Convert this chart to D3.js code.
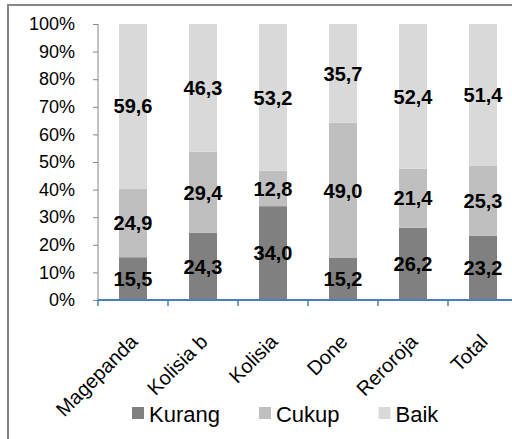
<!DOCTYPE html>
<html>
<head>
<meta charset="utf-8">
<script src="https://cdn.jsdelivr.net/npm/d3@7"></script>
<style>
  body { margin: 0; background: #fff; }
  text { font-family: Arial, "Liberation Sans", sans-serif; }
</style>
</head>
<body>
<script>
const categories = ["Magepanda", "Kolisia b", "Kolisia", "Done", "Reroroja", "Total"];
const seriesNames = ["Kurang", "Cukup", "Baik"];
const kurang = [15.5, 24.3, 34.0, 15.2, 26.2, 23.2];
const cukup = [24.9, 29.4, 12.8, 49.0, 21.4, 25.3];
const baik = [59.6, 46.3, 53.2, 35.7, 52.4, 51.4];
const yTicks = [0, 0.1, 0.2, 0.3, 0.4, 0.5, 0.6, 0.7, 0.8, 0.9, 1];
const colors = ["#808080", "#bfbfbf", "#d9d9d9"];

const w = 512,
      h = 439;

const rows = categories.map((c, i) => ({cat: c, Kurang: kurang[i], Cukup: cukup[i], Baik: baik[i]}));

const stack = d3.stack()
                .keys(seriesNames)
                .offset(d3.stackOffsetExpand);
const layers = stack(rows);

const xScale = d3.scaleBand()
                 .domain(categories)
                 .range([98, 518])
                 .paddingInner(0.6)
                 .paddingOuter(0.3);

const yScale = d3.scaleLinear()
                 .domain([0, 1])
                 .range([300, 24]);

const svg = d3.select("body")
              .append("svg")
              .attr("width", w)
              .attr("height", h);

// chart border (right and bottom edges fall outside the picture)
svg.append("rect")
   .attr("x", 8)
   .attr("y", 5)
   .attr("width", 600)
   .attr("height", 600)
   .attr("fill", "none")
   .attr("stroke", "#868686")
   .attr("stroke-width", 2);

// bars
const layer = svg.selectAll("g.layer")
   .data(layers)
   .enter()
   .append("g")
   .attr("class", "layer")
   .attr("fill", (d, i) => colors[i]);

layer.selectAll("rect")
   .data(d => d)
   .enter()
   .append("rect")
   .attr("x", d => xScale(d.data.cat))
   .attr("y", d => yScale(d[1]))
   .attr("width", xScale.bandwidth())
   .attr("height", d => yScale(d[0]) - yScale(d[1]));

// value labels
layers.forEach((l, li) => {
    svg.append("g")
       .selectAll("text")
       .data(l)
       .enter()
       .append("text")
       .attr("x", d => xScale(d.data.cat) + xScale.bandwidth() / 2)
       .attr("y", d => yScale((d[0] + d[1]) / 2))
       .attr("dy", "0.36em")
       .attr("text-anchor", "middle")
       .attr("font-size", 20)
       .attr("font-weight", "bold")
       .attr("fill", "#000")
       .text(d => d.data[l.key].toFixed(1).replace(".", ","));
});

// y axis
const yAxis = d3.axisLeft(yScale)
                .tickValues(yTicks)
                .tickSize(5)
                .tickPadding(18)
                .tickFormat(d3.format(".0%"));

const gy = svg.append("g")
   .attr("transform", "translate(98,0)")
   .call(yAxis);
gy.select(".domain").attr("stroke", "#868686").attr("d", "M0,24V300");
gy.selectAll(".tick line").attr("stroke", "#868686");
gy.selectAll(".tick text")
  .attr("font-size", 18)
  .attr("font-family", "Arial, 'Liberation Sans', sans-serif")
  .attr("fill", "#000");

// x axis
const step = xScale.step();
svg.append("line")
   .attr("x1", 98)
   .attr("x2", 518)
   .attr("y1", 300)
   .attr("y2", 300)
   .attr("stroke", "#4a7ebb")
   .attr("stroke-width", 2);

svg.selectAll("line.xtick")
   .data(d3.range(categories.length + 1))
   .enter()
   .append("line")
   .attr("class", "xtick")
   .attr("x1", i => 98 + i * step)
   .attr("x2", i => 98 + i * step)
   .attr("y1", 300)
   .attr("y2", 306)
   .attr("stroke", "#4a7ebb")
   .attr("stroke-width", 1.5);

svg.selectAll("text.xlabel")
   .data(categories)
   .enter()
   .append("text")
   .attr("class", "xlabel")
   .attr("text-anchor", "end")
   .attr("dy", "0.35em")
   .attr("font-size", 20)
   .attr("fill", "#000")
   .attr("transform", d => "translate(" + (xScale(d) + xScale.bandwidth() / 2 + 1) + ",338)rotate(-45)")
   .text(d => d);

// legend
const legend = svg.append("g").attr("transform", "translate(132,0)");
let lx = 0;
seriesNames.forEach((s, i) => {
    legend.append("rect")
          .attr("x", lx)
          .attr("y", 407)
          .attr("width", 12)
          .attr("height", 12)
          .attr("fill", colors[i]);
    const t = legend.append("text")
          .attr("x", lx + 17)
          .attr("y", 422)
          .attr("font-size", 22)
          .attr("fill", "#000")
          .text(s);
    lx += 17 + t.node().getComputedTextLength() + 39;
});
</script>
</body>
</html>
